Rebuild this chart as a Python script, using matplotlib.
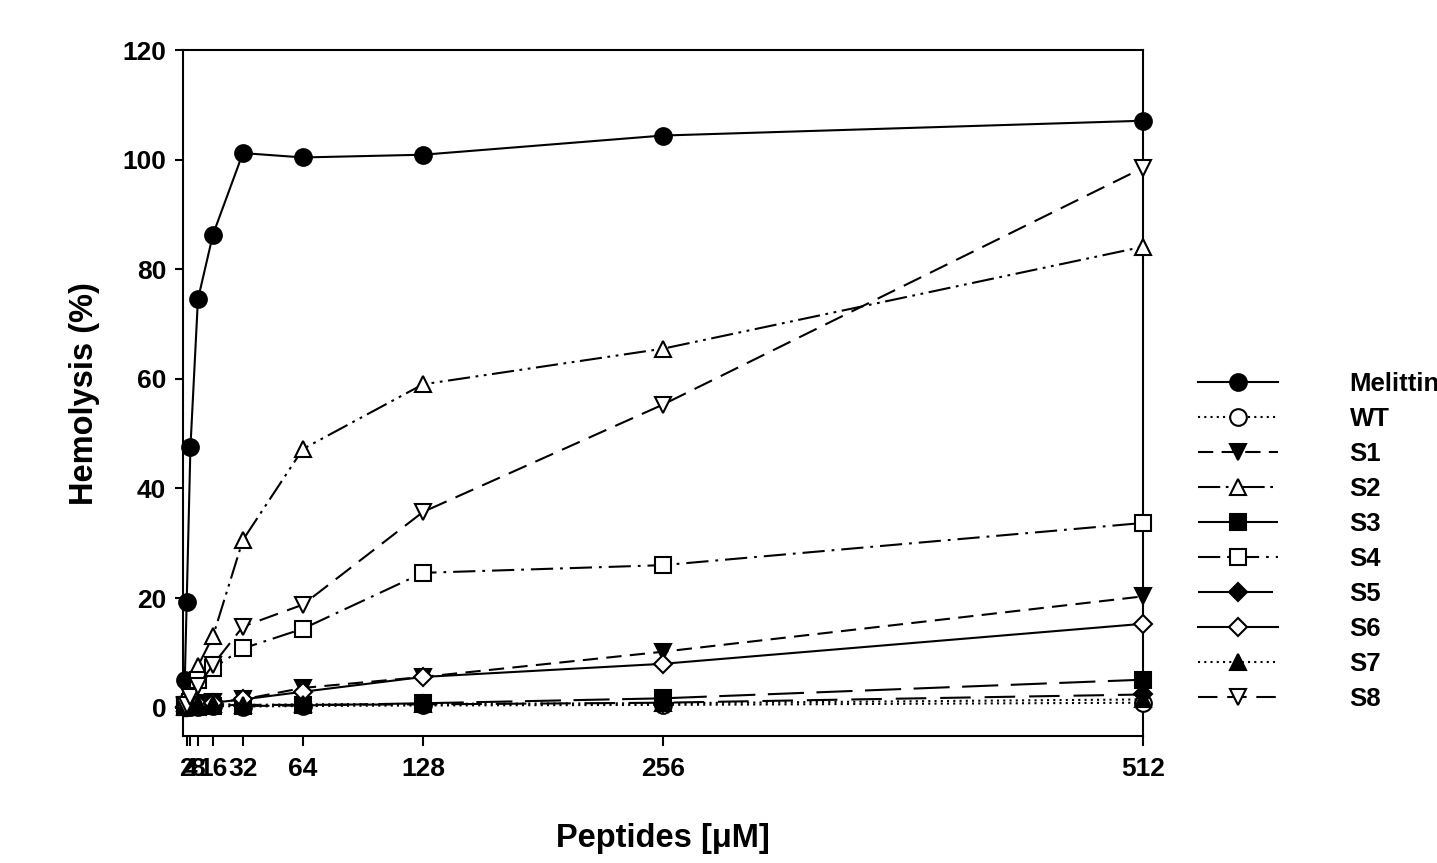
import matplotlib
matplotlib.use("Agg")
import matplotlib.pyplot as plt
import numpy as np

plt.rcParams['font.family'] = ['Liberation Sans', 'DejaVu Sans']
plt.rcParams['font.weight'] = 'bold'
plt.rcParams['lines.scale_dashes'] = False

# concentrations (uM)
conc = [1, 2, 4, 8, 16, 32, 64, 128, 256, 512]
xtick_vals = [2, 4, 8, 16, 32, 64, 128, 256, 512]

melittin = [5.1, 19.2, 47.5, 74.5, 86.3, 101.2, 100.4, 100.9, 104.4, 107.1]
wt = [0.3, 0.1, 0.2, 0.2, 0.3, 0.2, 0.3, 0.4, 0.5, 0.9]
s1 = [0.5, 0.3, 0.6, 0.8, 1.0, 1.5, 3.6, 5.6, 10.2, 20.3]
s2 = [0.8, 1.5, 3.0, 7.6, 13.0, 30.6, 47.2, 59.0, 65.5, 84.1]
s3 = [0.2, 0.1, 0.2, 0.2, 0.3, 0.3, 0.4, 0.8, 1.7, 5.1]
s4 = [0.3, 0.5, 1.0, 5.1, 7.2, 10.8, 14.4, 24.6, 26.0, 33.7]
s5 = [0.1, 0.2, 0.3, 0.3, 0.4, 0.5, 0.5, 0.6, 0.9, 2.4]
s6 = [0.1, 0.2, 0.4, 0.6, 0.9, 1.5, 2.9, 5.6, 8.0, 15.3]
s7 = [0.2, 0.3, 0.5, 0.6, 0.7, 0.5, 0.6, 0.7, 0.8, 1.5]
s8 = [0.3, 0.5, 2.0, 4.0, 7.8, 14.8, 18.8, 35.7, 55.3, 98.5]

labels = ['Melittin', 'WT', 'S1', 'S2', 'S3', 'S4', 'S5', 'S6', 'S7', 'S8']
series = [melittin, wt, s1, s2, s3, s4, s5, s6, s7, s8]

# marker, filled?, linestyle
styles = [
    ('o', True, '-'),
    ('o', False, (0, (1.5, 3))),
    ('v', True, (0, (11, 6))),
    ('^', False, (0, (16, 4, 2, 4, 2, 4))),
    ('s', True, (0, (26, 9))),
    ('s', False, (0, (16, 5, 2, 5))),
    ('D', True, (0, (22, 10))),
    ('D', False, '-'),
    ('^', True, (0, (1.5, 3))),
    ('v', False, (0, (14, 7))),
]

fig = plt.figure(figsize=(14.37, 8.63), dpi=100)
ax = fig.add_axes([0.1273, 0.147, 0.668, 0.795])

for i, (lab, vals, (mk, filled, ls)) in enumerate(zip(labels, series, styles)):
    ms = 12 if mk == 'o' else 11
    if mk == 'D':
        ms = 9.5
    ax.plot(conc, vals, color='k', linestyle=ls, linewidth=1.5,
            marker=mk, markersize=ms, markeredgewidth=1.5,
            markerfacecolor='k' if filled else 'white', markeredgecolor='k',
            label=lab, zorder=3 + i, clip_on=False)

ax.set_xlim(0, 512)
ax.set_ylim(-5.2, 120)
ax.set_xticks(xtick_vals)
ax.set_xticklabels([str(v) for v in xtick_vals])
ax.set_yticks(np.arange(0, 121, 20))
ax.tick_params(axis='both', direction='out', labelsize=19, width=1.5)
ax.tick_params(axis='x', length=7, pad=8)
ax.tick_params(axis='y', length=6, pad=6)
for sp in ax.spines.values():
    sp.set_linewidth(1.5)

ax.set_xlabel('Peptides [μM]', fontsize=23.5, fontweight='bold', labelpad=30)
ax.set_ylabel('Hemolysis (%)', fontsize=23.5, fontweight='bold', labelpad=16)

leg = fig.legend(loc='upper left', bbox_to_anchor=(1198 / 1437, 1 - 372 / 863),
                 frameon=False, fontsize=18.5, handlelength=3.1, handletextpad=2.8,
                 labelspacing=0.43, borderpad=0, borderaxespad=0)

plt.savefig('out.png', dpi=100)
